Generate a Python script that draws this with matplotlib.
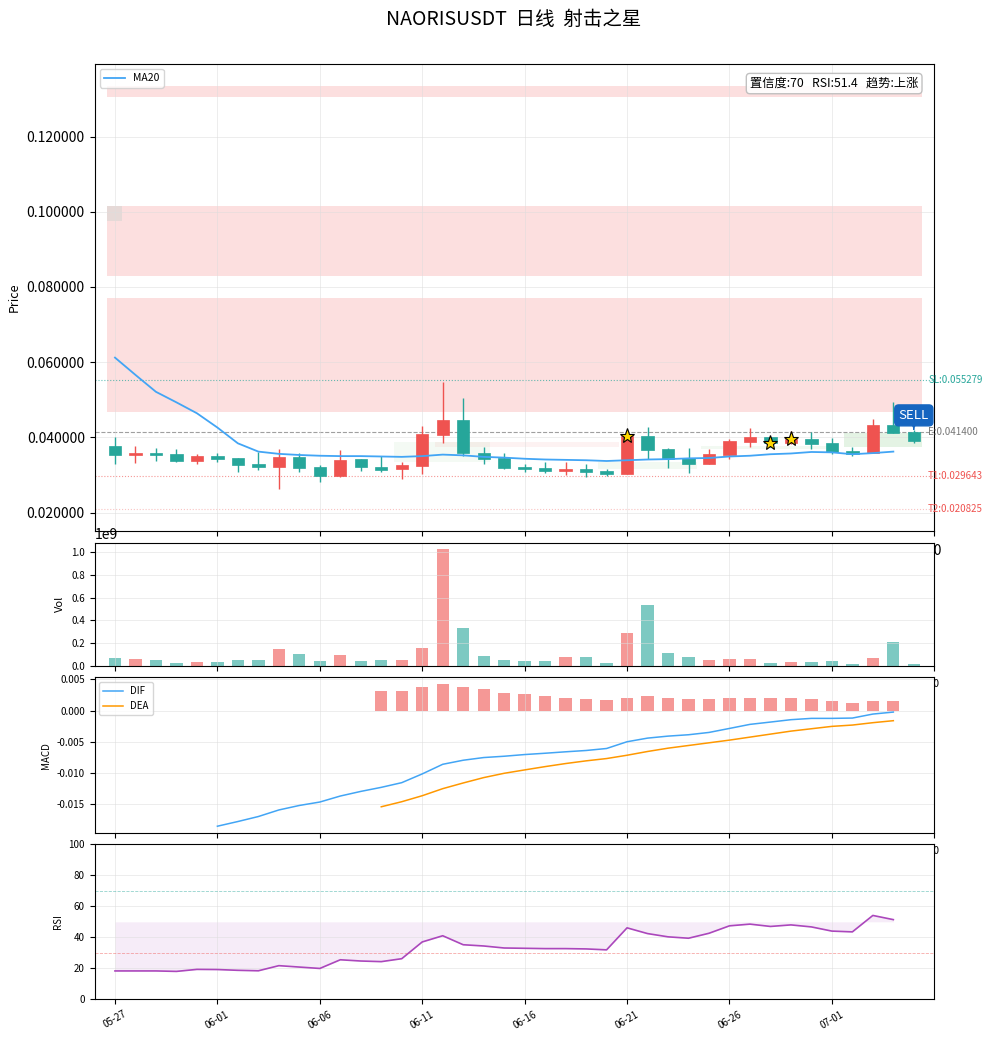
import numpy as np
import pandas as pd
import matplotlib
matplotlib.use("Agg")
import matplotlib.pyplot as plt
from matplotlib.patches import Rectangle

plt.rcParams['font.family'] = ['Noto Sans CJK SC', 'DejaVu Sans']
plt.rcParams['axes.unicode_minus'] = False

UP = '#ef5350'
DOWN = '#26a69a'

dates = pd.date_range('2025-05-27', periods=40, freq='D')
opens = [0.0376, 0.0354, 0.0358, 0.0355, 0.0338, 0.0350, 0.0344, 0.0328, 0.0322, 0.0347,
         0.0320, 0.0298, 0.0341, 0.0320, 0.0315, 0.0325, 0.0407, 0.0445, 0.0357, 0.0344,
         0.0321, 0.0318, 0.0311, 0.0316, 0.0310, 0.0303, 0.0403, 0.0368, 0.0345, 0.0330,
         0.0354, 0.0388, 0.0400, 0.0385, 0.0396, 0.0384, 0.0364, 0.0358, 0.0432, 0.0414]
closes = [0.0354, 0.0358, 0.0354, 0.0338, 0.0349, 0.0343, 0.0327, 0.0322, 0.0347, 0.0319,
          0.0298, 0.0339, 0.0320, 0.0312, 0.0326, 0.0408, 0.0445, 0.0357, 0.0343, 0.0319,
          0.0316, 0.0311, 0.0316, 0.0309, 0.0303, 0.0403, 0.0367, 0.0341, 0.0330, 0.0355,
          0.0390, 0.0401, 0.0386, 0.0396, 0.0383, 0.0362, 0.0356, 0.0434, 0.0412, 0.0391]
highs = [0.0401, 0.0377, 0.0372, 0.0369, 0.0356, 0.0358, 0.0345, 0.0360, 0.0368, 0.0357,
         0.0326, 0.0366, 0.0342, 0.0349, 0.0334, 0.0430, 0.0547, 0.0505, 0.0374, 0.0358,
         0.0329, 0.0334, 0.0334, 0.0328, 0.0316, 0.0419, 0.0427, 0.0372, 0.0372, 0.0369,
         0.0396, 0.0425, 0.0401, 0.0416, 0.0414, 0.0398, 0.0374, 0.0448, 0.0494, 0.0419]
lows = [0.0329, 0.0332, 0.0338, 0.0334, 0.0330, 0.0335, 0.0309, 0.0314, 0.0263, 0.0309,
        0.0282, 0.0295, 0.0311, 0.0309, 0.0290, 0.0303, 0.0386, 0.0351, 0.0330, 0.0316,
        0.0309, 0.0305, 0.0301, 0.0295, 0.0298, 0.0302, 0.0341, 0.0319, 0.0305, 0.0328,
        0.0342, 0.0375, 0.0373, 0.0383, 0.0369, 0.0355, 0.0351, 0.0357, 0.0411, 0.0386]
volumes = [0.072, 0.061, 0.052, 0.026, 0.035, 0.035, 0.052, 0.052, 0.149, 0.105,
           0.044, 0.096, 0.044, 0.052, 0.052, 0.157, 1.032, 0.332, 0.087, 0.052,
           0.044, 0.044, 0.079, 0.079, 0.026, 0.289, 0.534, 0.114, 0.079, 0.052,
           0.061, 0.061, 0.026, 0.035, 0.035, 0.044, 0.017, 0.070, 0.210, 0.017]
volumes = [v * 1e9 for v in volumes]

ma20 = [0.0612, 0.0566, 0.0521, 0.0493, 0.0464, 0.0426, 0.0384, 0.0362, 0.0356, 0.0353,
        0.0351, 0.0350, 0.0350, 0.0349, 0.0348, 0.0350, 0.0354, 0.0352, 0.0348, 0.0346,
        0.0343, 0.0341, 0.0340, 0.0339, 0.0337, 0.0339, 0.0341, 0.0342, 0.0344, 0.0345,
        0.0349, 0.0351, 0.0355, 0.0357, 0.0361, 0.0360, 0.0355, 0.0358, 0.0362]

nan = np.nan
dif = [nan, nan, nan, nan, nan, -0.01850, -0.01775, -0.01695, -0.01590, -0.01518,
       -0.01463, -0.01367, -0.01293, -0.01228, -0.01153, -0.01013, -0.00859, -0.00794, -0.00751, -0.00730,
       -0.00703, -0.00682, -0.00659, -0.00638, -0.00606, -0.00498, -0.00440, -0.00408, -0.00386, -0.00349,
       -0.00285, -0.00220, -0.00183, -0.00145, -0.00124, -0.00124, -0.00119, -0.00055, -0.00023]
dea = [nan] * 13 + [-0.01539, -0.01458, -0.01362, -0.01249, -0.01158, -0.01072, -0.01003,
                    -0.00949, -0.00896, -0.00847, -0.00804, -0.00767, -0.00714, -0.00654, -0.00601,
                    -0.00558, -0.00515, -0.00472, -0.00424, -0.00376, -0.00328, -0.00290, -0.00252,
                    -0.00231, -0.00193, -0.00161]
hist = [nan] * 13 + [0.0031, 0.0031, 0.00375, 0.0042, 0.00375, 0.0034, 0.0029,
                     0.0026, 0.0023, 0.0021, 0.0018, 0.0017, 0.0021, 0.0023, 0.0021,
                     0.0018, 0.0018, 0.0020, 0.0021, 0.0020, 0.0020, 0.0018, 0.0015,
                     0.0012, 0.0015, 0.0015]

rsi = [18.3, 18.3, 18.3, 18.0, 19.3, 19.2, 18.7, 18.4, 21.7, 20.8,
       19.9, 25.5, 24.7, 24.3, 26.2, 37.0, 41.0, 35.2, 34.4, 33.1,
       32.9, 32.7, 32.7, 32.5, 31.9, 46.1, 42.4, 40.3, 39.4, 42.6,
       47.4, 48.5, 47.0, 48.0, 46.7, 44.0, 43.5, 54.1, 51.4]

# resistance zones (price low, price high)
red_zones = [(0.0468, 0.0770), (0.0830, 0.1015), (0.1306, 0.1334)]
# minor zones: x0, x1, low, high, color, alpha
minor_zones = [(-0.4, 0.35, 0.0975, 0.1015, DOWN, 0.10),
               (13.6, 18.3, 0.0335, 0.0388, '#4caf50', 0.06),
               (15.6, 24.6, 0.0375, 0.0387, UP, 0.07),
               (23.6, 28.4, 0.0316, 0.0335, '#4caf50', 0.07),
               (28.6, 34.8, 0.0370, 0.0377, '#4caf50', 0.07),
               (35.6, 39.4, 0.0375, 0.0412, '#4caf50', 0.15)]
star_idx = [25, 32, 33]
levels = [('SL', 0.055279, DOWN, ':', 0.7), ('E', 0.041400, '#777777', '--', 0.7),
          ('T1', 0.029643, UP, ':', 0.6), ('T2', 0.020825, UP, ':', 0.35)]
sell_idx = 39

n = len(opens)
x = np.arange(n)
xi = np.arange(len(ma20))

fig = plt.figure(figsize=(9.93, 10.40), dpi=100)
W, H = 993, 1040
def box(top, bottom):
    return [94.5 / W, 1 - bottom / H, (934.3 - 94.5) / W, (bottom - top) / H]

ax1 = fig.add_axes(box(64, 530.7))
ax2 = fig.add_axes(box(542.7, 666))
ax3 = fig.add_axes(box(677.3, 833.3))
ax4 = fig.add_axes(box(844.3, 999.3))

# ---- price panel
for lo, hi in red_zones:
    ax1.add_patch(Rectangle((-0.4, lo), n - 0.2, hi - lo, color=UP, alpha=0.18, lw=0, zorder=0))
for x0, x1, lo, hi, c, a in minor_zones:
    ax1.add_patch(Rectangle((x0, lo), x1 - x0, hi - lo, color=c, alpha=a, lw=0, zorder=0))

for name, lv, c, ls, a in levels:
    ax1.axhline(lv, color=c, ls=ls, lw=0.8, alpha=a, zorder=1)
    ax1.text(n - 0.3, lv, f'{name}:{lv:.6f}', color=c, fontsize=7, ha='left', va='center')

for i in range(n):
    c = UP if closes[i] >= opens[i] else DOWN
    ax1.vlines(i, lows[i], highs[i], color=c, lw=1, zorder=2)
    ax1.add_patch(Rectangle((i - 0.3, min(opens[i], closes[i])), 0.6,
                            max(abs(closes[i] - opens[i]), 0.00012),
                            facecolor=c, edgecolor=c, lw=0.5, zorder=3))

ax1.plot(xi, ma20, color='#42a5f5', lw=1.3, label='MA20', zorder=4)
ax1.plot(star_idx, [closes[i] for i in star_idx], ls='none', marker='*', ms=11,
         mfc='#ffd700', mec='black', mew=0.8, zorder=5)
ax1.annotate('SELL', xy=(sell_idx, opens[sell_idx]), xytext=(0, 12), textcoords='offset points',
             ha='center', va='center', color='white', fontsize=9.5,
             bbox=dict(boxstyle='round,pad=0.3', fc='#1565c0', ec='#1565c0'),
             arrowprops=dict(arrowstyle='-|>', color='#1565c0', lw=1, mutation_scale=6),
             zorder=6)
ax1.text(0.981, 0.972, '置信度:70   RSI:51.4   趋势:上涨', transform=ax1.transAxes,
         ha='right', va='top', fontsize=8.8,
         bbox=dict(boxstyle='round,pad=0.3', fc='white', ec='#bbbbbb', alpha=0.9))
ax1.set_ylim(0.01516, 0.1393)
ax1.set_xlim(-1, n)
ax1.yaxis.set_major_formatter(plt.FormatStrFormatter('%.6f'))
ax1.tick_params(axis='x', pad=6)
ax1.set_ylabel('Price', fontsize=9)
ax1.grid(True, color='#dddddd', lw=0.6, alpha=0.6)
ax1.legend(loc='upper left', fontsize=7.5)
fig.text(0.517, 0.981, 'NAORISUSDT  日线  射击之星', fontsize=14, ha='center', va='center')

# ---- volume panel
vcolors = [UP if closes[i] >= opens[i] else DOWN for i in range(n)]
ax2.bar(x, volumes, width=0.6, color=vcolors, alpha=0.6)
ax2.set_xlim(-1, n)
ax2.set_ylabel('Vol', fontsize=8)
ax2.tick_params(labelsize=7)
ax2.tick_params(axis='x', pad=6)
ax2.grid(True, color='#dddddd', lw=0.6, alpha=0.6)

# ---- MACD panel
hcolors = [UP if (h >= 0 or np.isnan(h)) else DOWN for h in hist]
ax3.bar(xi, hist, width=0.6, color=hcolors, alpha=0.6)
ax3.plot(xi, dif, color='#42a5f5', lw=1.1, label='DIF')
ax3.plot(xi, dea, color='#ff9800', lw=1.1, label='DEA')
ax3.set_xlim(-1, n)
ax3.set_ylabel('MACD', fontsize=7)
ax3.tick_params(labelsize=7)
ax3.tick_params(axis='x', pad=6)
ax3.grid(True, color='#dddddd', lw=0.6, alpha=0.6)
ax3.legend(loc='upper left', fontsize=7)

# ---- RSI panel
ax4.plot(xi, rsi, color='#ab47bc', lw=1.2)
ax4.fill_between(xi, rsi, 50, color='#ab47bc', alpha=0.1, lw=0)
ax4.axhline(70, color=DOWN, ls='--', lw=0.6, alpha=0.5)
ax4.axhline(30, color=UP, ls='--', lw=0.6, alpha=0.5)
ax4.set_ylim(0, 100)
ax4.set_xlim(-1, n)
ax4.set_ylabel('RSI', fontsize=7)
ticks = list(range(0, n, 5))
ax4.set_xticks(ticks)
ax4.set_xticklabels([dates[t].strftime('%m-%d') for t in ticks], rotation=30)
ax4.tick_params(labelsize=7)
ax4.grid(True, color='#dddddd', lw=0.6, alpha=0.6)

fig.savefig('out.png', dpi=100)
